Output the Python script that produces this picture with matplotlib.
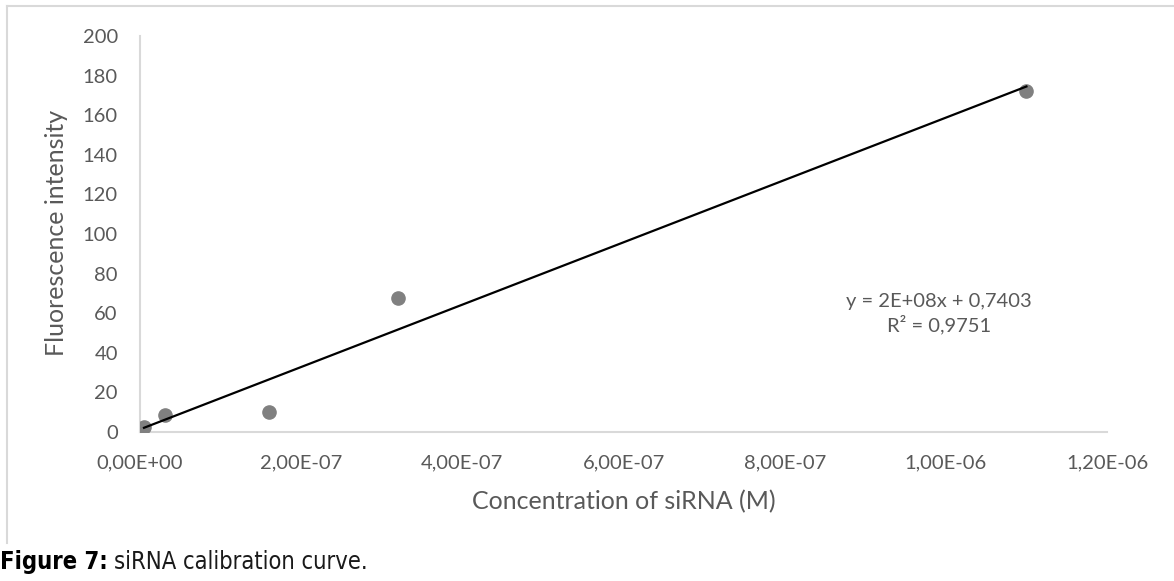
import numpy as np
import matplotlib
matplotlib.use('Agg')
import matplotlib.pyplot as plt
from matplotlib.ticker import FuncFormatter, MultipleLocator
from matplotlib.lines import Line2D

# data
conc = [5e-9, 3.1e-8, 1.6e-7, 3.2e-7, 1.1e-6]   # M
fluor = [2.5, 8.6, 10.3, 67.5, 172.2]
eq_text = "y = 2E+08x + 0,7403\nR² = 0,9751"
xlabel = "Concentration of siRNA (M)"
ylabel = "Fluorescence intensity"

W, H = 1174, 581
fig = plt.figure(figsize=(W / 100, H / 100), dpi=100)
ax = fig.add_axes([140 / W, (H - 432) / H, (1107 - 140) / W, (432 - 36) / H])

grey_txt = '#595959'
axis_col = '#d9d9d9'
font = 'Lato'

ax.plot(conc, fluor, 'o', color='#808080', markersize=9.5, zorder=3)

# linear trend line (least squares) from the data
k, b = np.polyfit(conc, fluor, 1)
xs = np.array([min(conc), max(conc)])
ax.plot(xs, k * xs + b, color='black', lw=1.6, zorder=4)

ax.set_xlim(0, 1.2e-6)
ax.set_ylim(0, 200)
ax.xaxis.set_major_locator(MultipleLocator(2e-7))
ax.yaxis.set_major_locator(MultipleLocator(20))
ax.xaxis.set_major_formatter(FuncFormatter(lambda v, p: ('%.2E' % v).replace('.', ',')))
ax.yaxis.set_major_formatter(FuncFormatter(lambda v, p: '%d' % round(v)))
ax.tick_params(length=0, labelsize=14.5, labelcolor=grey_txt, pad=16)
for lab in ax.get_xticklabels() + ax.get_yticklabels():
    lab.set_family(font)

for s in ['top', 'right']:
    ax.spines[s].set_visible(False)
for s in ['left', 'bottom']:
    ax.spines[s].set_color(axis_col)
    ax.spines[s].set_linewidth(1.5)

fig.text(624 / W, 1 - 502 / H, xlabel, ha='center', va='center',
         fontsize=18, color=grey_txt, family=font)
fig.text(57 / W, 1 - 233 / H, ylabel, ha='center', va='center', rotation=90,
         fontsize=18, color=grey_txt, family=font)
fig.text(939 / W, 1 - 314 / H, eq_text, ha='center', va='center',
         fontsize=14.5, color=grey_txt, family=font, linespacing=1.3)

# chart area frame (top and left visible)
fig.add_artist(Line2D([7 / W, 1], [1 - 6 / H, 1 - 6 / H], color=axis_col, lw=1.5))
fig.add_artist(Line2D([7 / W, 7 / W], [1 - 6 / H, 1 - 543 / H], color=axis_col, lw=1.5))

# caption
cap1 = fig.text(0.5 / W, 1 - 569 / H, "Figure 7:", ha='left', va='baseline',
                fontsize=17, fontweight='bold', color='black',
                family='DejaVu Sans', fontstretch='condensed')
r = fig.canvas.get_renderer()
x_end = cap1.get_window_extent(renderer=r).x1
fig.text((x_end + 6) / W, 1 - 569 / H, "siRNA calibration curve.", ha='left', va='baseline',
         fontsize=17, color='#1a1a1a', family='DejaVu Sans', fontstretch='condensed')

fig.savefig('out.png', dpi=100)
